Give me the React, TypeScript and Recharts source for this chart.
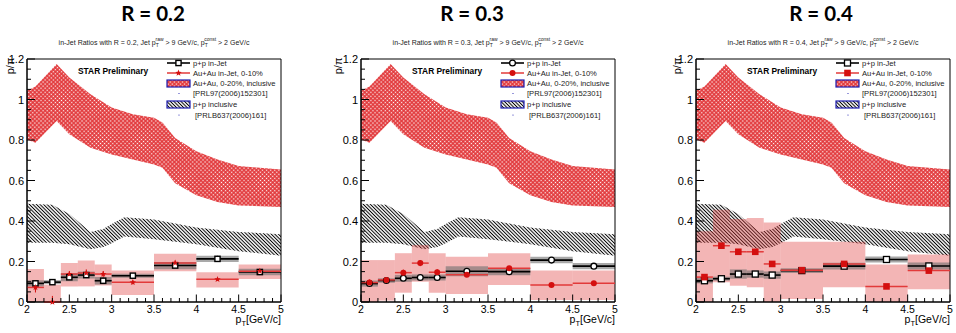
import React from 'react';
import { ComposedChart, XAxis, YAxis, Area, Scatter, ErrorBar, ReferenceArea } from 'recharts';

const FONT = '"Liberation Sans", Arial, Helvetica, sans-serif';
const RED = '#d40f0f';
const RED_LINE = '#e23a3a';
const BLUE = '#1c1cb0';

// ---- bins ----
const binLow = [2.0, 2.2, 2.4, 2.6, 2.8, 3.0, 3.5, 4.0, 4.5];
const binHigh = [2.2, 2.4, 2.6, 2.8, 3.0, 3.5, 4.0, 4.5, 5.0];
const binCenter = [2.1, 2.3, 2.5, 2.7, 2.9, 3.25, 3.75, 4.25, 4.75];

// ---- axis ticks ----
const xMajorTicks = [2, 2.5, 3, 3.5, 4, 4.5, 5];
const yMajorTicks = [0, 0.2, 0.4, 0.6, 0.8, 1, 1.2];
const xTicks = Array.from({ length: 31 }, (_, i) => Math.round((2 + i * 0.1) * 100) / 100);
const yTicks = Array.from({ length: 25 }, (_, i) => Math.round(i * 0.05 * 100) / 100);

// ---- Au+Au 0-20% inclusive band [PRL97(2006)152301] ----
const auauIncX = [2.0, 2.1, 2.35, 2.5, 2.75, 3.0, 3.25, 3.5, 3.6, 3.75, 4.0, 4.25, 4.5, 5.0];
const auauIncHigh = [1.043, 1.064, 1.175, 1.109, 1.026, 0.96, 0.927, 0.91, 0.886, 0.81, 0.745, 0.704, 0.671, 0.654];
const auauIncLow = [0.803, 0.787, 0.894, 0.828, 0.762, 0.729, 0.704, 0.679, 0.663, 0.586, 0.527, 0.494, 0.477, 0.469];

// ---- p+p inclusive band [PRLB637(2006)161] ----
const ppIncX = [2.0, 2.3, 2.5, 2.75, 2.9, 3.0, 3.15, 3.5, 4.0, 4.5, 5.0];
const ppIncHigh = [0.485, 0.48, 0.435, 0.346, 0.36, 0.385, 0.418, 0.407, 0.368, 0.346, 0.335];
const ppIncLow = [0.293, 0.293, 0.285, 0.26, 0.272, 0.29, 0.323, 0.31, 0.285, 0.251, 0.229];

// ---- R = 0.2 ----
const ppJet02 = [0.092, 0.098, 0.122, 0.133, 0.105, 0.13, 0.18, 0.213, 0.148];
const ppJet02Stat = [0.01, 0.008, 0.012, 0.012, 0.015, 0.01, 0.012, 0.015, 0.015];
const ppJet02Sys = [0.015, 0.01, 0.02, 0.017, 0.018, 0.01, 0.018, 0.015, 0.016];
const auJet02 = [0.072, 0.0, 0.138, 0.143, 0.138, 0.097, 0.193, 0.112, 0.152];
const auJet02Stat: (number | number[])[] = [0.025, [0, 0.03], 0.015, 0.018, 0.015, 0.01, 0.012, 0.008, 0.012];
const auJet02SysLow = [0, 0, 0.077, 0.077, 0.082, 0.035, 0.152, 0.072, 0.113];
const auJet02SysHigh = [0.163, 0.085, 0.193, 0.205, 0.185, 0.155, 0.238, 0.147, 0.185];

// ---- R = 0.3 ----
const ppJet03 = [0.091, 0.106, 0.117, 0.121, 0.121, 0.152, 0.15, 0.207, 0.177];
const ppJet03Stat = [0.01, 0.01, 0.012, 0.01, 0.015, 0.01, 0.01, 0.012, 0.012];
const ppJet03Sys = [0.015, 0.011, 0.017, 0.015, 0.015, 0.025, 0.018, 0.016, 0.015];
const auJet03 = [0.096, 0.109, 0.145, 0.192, 0.147, 0.134, 0.167, 0.084, 0.093];
const auJet03Stat: (number | number[])[] = [0.015, 0.012, 0.015, 0.015, 0.015, 0.01, 0.01, 0.006, 0.008];
const auJet03SysLow = [0, 0.007, 0.046, 0.1, 0.046, 0.04, 0.084, 0.01, 0.01];
const auJet03SysHigh = [0.207, 0.207, 0.241, 0.281, 0.241, 0.223, 0.241, 0.155, 0.155];

// ---- R = 0.4 ----
const ppJet04 = [0.105, 0.115, 0.138, 0.138, 0.133, 0.155, 0.177, 0.21, 0.178];
const ppJet04Stat = [0.01, 0.008, 0.01, 0.01, 0.015, 0.008, 0.01, 0.012, 0.012];
const ppJet04Sys = [0.013, 0.01, 0.023, 0.018, 0.018, 0.012, 0.017, 0.015, 0.017];
const auJet04 = [0.123, 0.278, 0.248, 0.248, 0.188, 0.157, 0.188, 0.077, 0.155];
const auJet04Stat: (number | number[])[] = [0.01, 0.01, 0.01, 0.01, 0.01, 0.008, 0.01, 0.006, 0.008];
const auJet04SysLow = [0, 0.097, 0.08, 0.073, 0, 0.015, 0.073, 0, 0.063];
const auJet04SysHigh = [0.35, 0.455, 0.41, 0.415, 0.393, 0.297, 0.297, 0.185, 0.235];

const legendLabels = [
  'p+p in-Jet',
  'Au+Au in-Jet, 0-10%',
  'Au+Au, 0-20%, inclusive',
  '[PRL97(2006)152301]',
  'p+p inclusive',
  '[PRLB637(2006)161]',
];

const auauBand = auauIncX.map((x, i) => ({ x, range: [auauIncLow[i], auauIncHigh[i]] }));
const ppBand = ppIncX.map((x, i) => ({ x, range: [ppIncLow[i], ppIncHigh[i]] }));

function makePoints(ys: number[], errs: (number | number[])[]) {
  return ys.map((y, i) => ({
    x: binCenter[i],
    y,
    xerr: Math.round(((binHigh[i] - binLow[i]) / 2) * 1000) / 1000,
    yerr: errs[i],
  }));
}

function starPath(cx: number, cy: number, ro: number, ri: number) {
  let d = '';
  for (let k = 0; k < 10; k++) {
    const r = k % 2 === 0 ? ro : ri;
    const a = -Math.PI / 2 + (k * Math.PI) / 5;
    d += (k === 0 ? 'M' : 'L') + (cx + r * Math.cos(a)).toFixed(2) + ',' + (cy + r * Math.sin(a)).toFixed(2);
  }
  return d + 'Z';
}

const shapes: Record<string, (cx: number, cy: number) => React.ReactElement> = {
  openSquare5: (cx, cy) => (
    <rect x={cx - 2.6} y={cy - 2.6} width={5.2} height={5.2} fill="#fff" stroke="#000" strokeWidth={1.4} />
  ),
  openCircle: (cx, cy) => <circle cx={cx} cy={cy} r={2.9} fill="#fff" stroke="#000" strokeWidth={1.3} />,
  openSquare6: (cx, cy) => (
    <rect x={cx - 3} y={cy - 3} width={6} height={6} fill="#fff" stroke="#000" strokeWidth={1.3} />
  ),
  star: (cx, cy) => <path d={starPath(cx, cy, 3.4, 1.4)} fill={RED} />,
  filledCircle: (cx, cy) => <circle cx={cx} cy={cy} r={3} fill={RED} />,
  filledSquare: (cx, cy) => <rect x={cx - 3.3} y={cy - 3.3} width={6.6} height={6.6} fill={RED} />,
};

const isMajor = (v: number, majors: number[]) => majors.some((m) => Math.abs(m - v) < 1e-6);
const fmt = (v: number) => String(Math.round(v * 100) / 100);

function YTick(props: any) {
  const { x, y, payload } = props;
  const v = payload.value;
  const major = isMajor(v, yMajorTicks);
  return (
    <g>
      <line x1={x} y1={y} x2={x + (major ? 8 : 4)} y2={y} stroke="#000" strokeWidth={1} />
      {major && (
        <text x={x - 3} y={y + 4} textAnchor="end" fontSize={11} fontFamily={FONT} fill="#000">
          {fmt(v)}
        </text>
      )}
    </g>
  );
}

function XTick(props: any) {
  const { x, y, payload } = props;
  const v = payload.value;
  const major = isMajor(v, xMajorTicks);
  return (
    <g>
      <line x1={x} y1={y} x2={x} y2={y - (major ? 7.5 : 4)} stroke="#000" strokeWidth={1} />
      {major && (
        <text x={x} y={y + 10.5} textAnchor="middle" fontSize={10.5} fontFamily={FONT} fill="#000">
          {fmt(v)}
        </text>
      )}
    </g>
  );
}

function PatternDefs({ k }: { k: string }) {
  return (
    <defs>
      <pattern id={`redx${k}`} width="2.9" height="2.9" patternUnits="userSpaceOnUse" patternTransform="rotate(45)">
        <rect width="2.9" height="2.9" fill="#e2373a" />
        <rect x="0.8" y="0.8" width="1.3" height="1.3" fill="#fff" />
      </pattern>
      <pattern id={`blk${k}`} width="2.5" height="2.5" patternUnits="userSpaceOnUse" patternTransform="rotate(-45)">
        <line x1="1.25" y1="0" x2="1.25" y2="2.5" stroke="#000" strokeWidth="1" />
      </pattern>
    </defs>
  );
}

type PanelCfg = {
  key: string;
  left: number;
  r: string;
  titleX: number;
  ylabX: number;
  ppShape: string;
  auShape: string;
  pp: number[];
  ppStat: (number | number[])[];
  ppSys: number[];
  au: number[];
  auStat: (number | number[])[];
  auSysLow: number[];
  auSysHigh: number[];
};

const panels: PanelCfg[] = [
  {
    key: 'a', left: 0, r: '0.2', titleX: 153, ylabX: 14, ppShape: 'openSquare5', auShape: 'star',
    pp: ppJet02, ppStat: ppJet02Stat, ppSys: ppJet02Sys,
    au: auJet02, auStat: auJet02Stat, auSysLow: auJet02SysLow, auSysHigh: auJet02SysHigh,
  },
  {
    key: 'b', left: 334, r: '0.3', titleX: 138, ylabX: 8, ppShape: 'openCircle', auShape: 'filledCircle',
    pp: ppJet03, ppStat: ppJet03Stat, ppSys: ppJet03Sys,
    au: auJet03, auStat: auJet03Stat, auSysLow: auJet03SysLow, auSysHigh: auJet03SysHigh,
  },
  {
    key: 'c', left: 669, r: '0.4', titleX: 152, ylabX: 12.3, ppShape: 'openSquare6', auShape: 'filledSquare',
    pp: ppJet04, ppStat: ppJet04Stat, ppSys: ppJet04Sys,
    au: auJet04, auStat: auJet04Stat, auSysLow: auJet04SysLow, auSysHigh: auJet04SysHigh,
  },
];

const CH_W = 287;
const CH_H = 333;

function Panel({ cfg }: { cfg: PanelCfg }) {
  const ppData = makePoints(cfg.pp, cfg.ppStat);
  const auData = makePoints(cfg.au, cfg.auStat);
  const ppShape = shapes[cfg.ppShape];
  const auShape = shapes[cfg.auShape];
  const legendY = [63, 73, 83.5, 93.5, 104.5, 115];
  return (
    <div style={{ position: 'absolute', left: cfg.left, top: 0, width: CH_W, height: CH_H }}>
      <ComposedChart width={CH_W} height={CH_H} margin={{ top: 59, right: 6, bottom: 0, left: 0 }}>
        <PatternDefs k={cfg.key} />
        <Area
          data={auauBand}
          dataKey="range"
          type="linear"
          stroke="none"
          fill={`url(#redx${cfg.key})`}
          fillOpacity={1}
          dot={false}
          activeDot={false}
          isAnimationActive={false}
        />
        <Area
          data={ppBand}
          dataKey="range"
          type="linear"
          stroke="none"
          fill={`url(#blk${cfg.key})`}
          fillOpacity={1}
          dot={false}
          activeDot={false}
          isAnimationActive={false}
        />
        {binCenter.map((_, i) => (
          <ReferenceArea
            key={`au-sys-${i}`}
            x1={binLow[i]}
            x2={binHigh[i]}
            y1={cfg.auSysLow[i]}
            y2={cfg.auSysHigh[i]}
            fill="#e03c3c"
            fillOpacity={0.38}
            stroke="none"
          />
        ))}
        {binCenter.map((_, i) => (
          <ReferenceArea
            key={`pp-sys-${i}`}
            x1={binLow[i]}
            x2={binHigh[i]}
            y1={cfg.pp[i] - cfg.ppSys[i]}
            y2={cfg.pp[i] + cfg.ppSys[i]}
            fill="#707070"
            fillOpacity={0.6}
            stroke="none"
          />
        ))}
        <XAxis
          dataKey="x"
          type="number"
          domain={[2, 5]}
          allowDataOverflow
          ticks={xTicks}
          interval={0}
          tickSize={0}
          tickMargin={0}
          tickLine={false}
          tick={<XTick />}
          axisLine={{ stroke: '#000' }}
          height={31}
        />
        <YAxis
          type="number"
          domain={[0, 1.2]}
          ticks={yTicks}
          interval={0}
          tickSize={0}
          tickMargin={0}
          tickLine={false}
          tick={<YTick />}
          axisLine={{ stroke: '#000' }}
          width={27}
        />
        <Scatter
          data={ppData}
          dataKey="y"
          isAnimationActive={false}
          shape={(p: any) => ppShape(p.cx, p.cy)}
        >
          <ErrorBar dataKey="xerr" direction="x" width={0} stroke="#000" strokeWidth={1.6} isAnimationActive={false} />
          <ErrorBar dataKey="yerr" direction="y" width={0} stroke="#000" strokeWidth={1} isAnimationActive={false} />
        </Scatter>
        <Scatter
          data={auData}
          dataKey="y"
          isAnimationActive={false}
          shape={(p: any) => auShape(p.cx, p.cy)}
        >
          <ErrorBar dataKey="xerr" direction="x" width={0} stroke={RED_LINE} strokeWidth={1.5} isAnimationActive={false} />
          <ErrorBar dataKey="yerr" direction="y" width={0} stroke={RED} strokeWidth={1} isAnimationActive={false} />
        </Scatter>
        <ReferenceArea x1={2} x2={5} y1={0} y2={1.2} fill="none" stroke="#000" strokeWidth={1} />
      </ComposedChart>
      <svg
        width={CH_W}
        height={CH_H}
        style={{ position: 'absolute', left: 0, top: 0, pointerEvents: 'none', overflow: 'visible' }}
        fontFamily={FONT}
      >
        <PatternDefs k={`${cfg.key}L`} />
        <text
          x={cfg.titleX}
          y={20.5}
          textAnchor="middle"
          fontFamily='Lato, "Open Sans", sans-serif'
          fontWeight={700}
          fontSize={20.5}
          fill="#000"
        >
          {`R = ${cfg.r}`}
        </text>
        <text x={154} y={45} textAnchor="middle" fontSize={7} fill="#222">
          {`in-Jet Ratios with R = ${cfg.r}, Jet p`}
          <tspan fontSize={5} dy={2.2}>T</tspan>
          <tspan fontSize={5} dx={-3} dy={-6}>raw</tspan>
          <tspan dy={3.8}>{' > 9 GeV/c, p'}</tspan>
          <tspan fontSize={5} dy={2.2}>T</tspan>
          <tspan fontSize={5} dx={-3} dy={-6}>const</tspan>
          <tspan dy={3.8}>{' > 2 GeV/c'}</tspan>
        </text>
        <text x={78} y={73.5} fontSize={8.4} fontWeight={700} fill="#000">
          STAR Preliminary
        </text>
        <text
          x={cfg.ylabX}
          y={57.5}
          transform={`rotate(-90, ${cfg.ylabX}, 57.5)`}
          textAnchor="end"
          fontSize={11}
          fill="#000"
        >
          p/π
        </text>
        <text x={281} y={323} textAnchor="end" fontSize={10.5} fill="#000">
          p<tspan fontSize={7.5} dy={3}>T</tspan>
          <tspan dy={-3}>[GeV/c]</tspan>
        </text>
        {/* legend */}
        <line x1={167} x2={190} y1={legendY[0]} y2={legendY[0]} stroke="#000" strokeWidth={1.6} />
        {ppShape(178.5, legendY[0])}
        <line x1={167} x2={190} y1={legendY[1]} y2={legendY[1]} stroke={RED_LINE} strokeWidth={1.5} />
        {auShape(178.5, legendY[1])}
        <rect x={167} y={legendY[2] - 3.5} width={23} height={7} fill={`url(#redx${cfg.key}L)`} stroke={BLUE} strokeWidth={1.2} />
        <circle cx={179} cy={legendY[3]} r={0.6} fill={BLUE} />
        <rect x={167} y={legendY[4] - 3.5} width={23} height={7} fill={`url(#blk${cfg.key}L)`} stroke={BLUE} strokeWidth={1.2} />
        <circle cx={179} cy={legendY[5]} r={0.6} fill={BLUE} />
        {legendLabels.map((t, i) => (
          <text key={t} x={i === 5 ? 195 : 193} y={legendY[i] + 2.7} fontSize={7.6} fill="#222">
            {t}
          </text>
        ))}
      </svg>
    </div>
  );
}

export default function App() {
  return (
    <div
      style={{
        position: 'absolute',
        left: 0,
        top: 0,
        width: 956,
        height: 333,
        background: '#fff',
        overflow: 'hidden',
      }}
    >
      {panels.map((p) => (
        <Panel key={p.key} cfg={p} />
      ))}
    </div>
  );
}
